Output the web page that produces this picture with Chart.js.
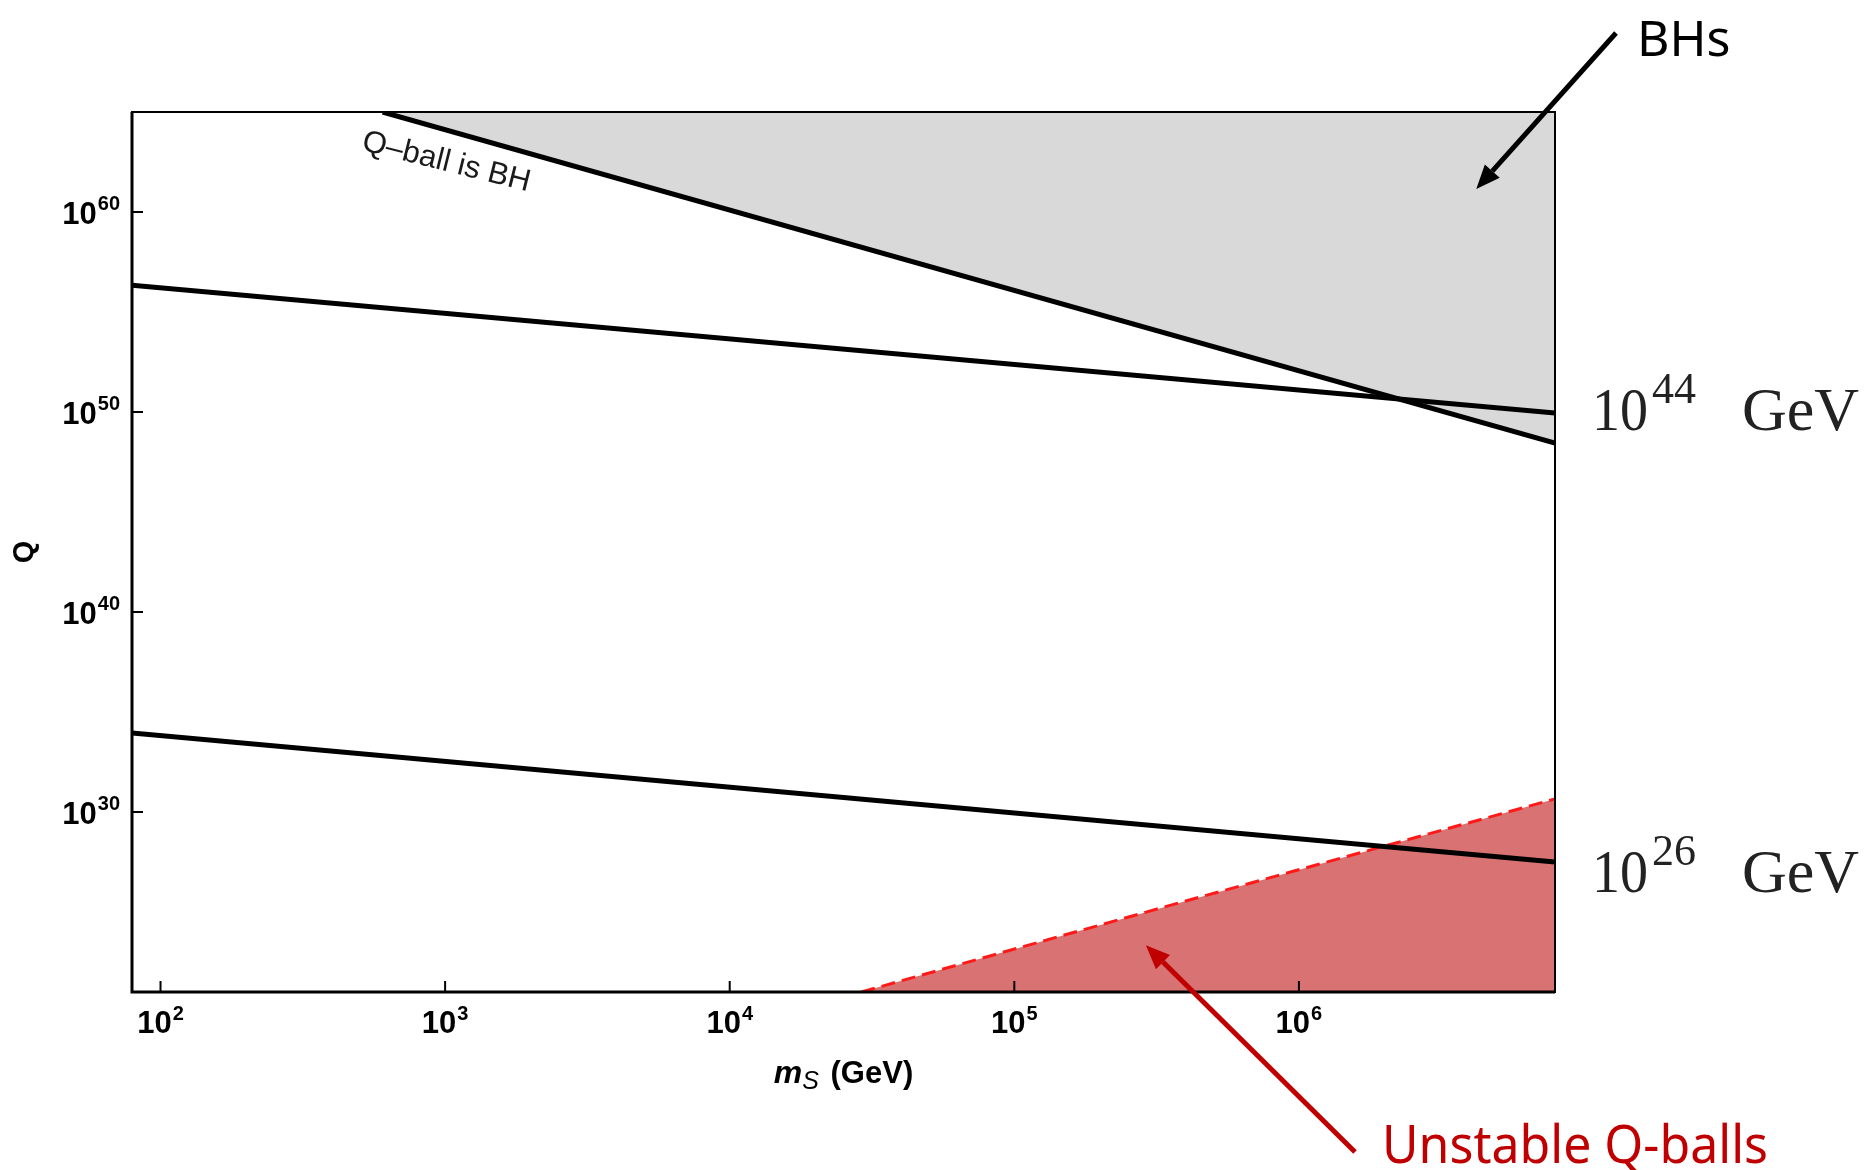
<!DOCTYPE html>
<html>
<head>
<meta charset="utf-8">
<title>Q-ball bounds</title>
<script src="https://cdn.jsdelivr.net/npm/chart.js@4.4.1/dist/chart.umd.min.js"></script>
<style>
  html, body { margin: 0; padding: 0; background: #fff; }
  #wrap { width: 1872px; height: 1170px; }
</style>
</head>
<body>
<div id="wrap"><canvas id="qballChart" width="1872" height="1170"></canvas></div>
<script>
// axis ranges: m_S in GeV, Q dimensionless
const xRange = [79.4, 7.94e6];
const yRange = [1e21, 1e65];
const xTickExps = [2, 3, 4, 5, 6];
const yTickExps = [30, 40, 50, 60];

// "Q-ball is BH" boundary
const bhMass = [603, 7.94e6];
const bhCharge = [1e65, 2.8e48];

// total energy 10^44 GeV
const e44Mass = [79.4, 7.94e6];
const e44Charge = [2.2e56, 8.9e49];

// total energy 10^26 GeV
const e26Mass = [79.4, 7.94e6];
const e26Charge = [8.9e33, 3.2e27];

// unstable Q-balls boundary
const unstableMass = [2.9e4, 3.9e5, 7.94e6];
const unstableCharge = [1e21, 3.2e25, 4.5e30];

const pts = (xs, ys) => xs.map((x, i) => ({ x: x, y: ys[i] }));

function drawArrow(ctx, x1, y1, x2, y2, color, width, headLen, headW) {
    const ang = Math.atan2(y2 - y1, x2 - x1);
    const bx = x2 - headLen * Math.cos(ang);
    const by = y2 - headLen * Math.sin(ang);
    ctx.strokeStyle = color;
    ctx.fillStyle = color;
    ctx.lineWidth = width;
    ctx.beginPath();
    ctx.moveTo(x1, y1);
    ctx.lineTo(bx, by);
    ctx.stroke();
    ctx.beginPath();
    ctx.moveTo(x2, y2);
    ctx.lineTo(bx + headW / 2 * Math.sin(ang), by - headW / 2 * Math.cos(ang));
    ctx.lineTo(bx - headW / 2 * Math.sin(ang), by + headW / 2 * Math.cos(ang));
    ctx.closePath();
    ctx.fill();
}

// draws "10" with a raised exponent, left edge at x
function drawPower(ctx, x, baseY, supY, exp, baseFont, supFont, gap) {
    ctx.textAlign = 'left';
    ctx.font = baseFont;
    ctx.fillText('10', x, baseY);
    const w = ctx.measureText('10').width;
    ctx.font = supFont;
    ctx.fillText(String(exp), x + w + gap, supY);
}

function powerWidth(ctx, exp, baseFont, supFont, gap) {
    ctx.font = baseFont;
    const w = ctx.measureText('10').width;
    ctx.font = supFont;
    return w + gap + ctx.measureText(String(exp)).width;
}

const annotations = {
    id: 'annotations',
    afterDraw(chart) {
        const ctx = chart.ctx;
        const { left, right, top, bottom } = chart.chartArea;
        const xs = chart.scales.x;
        const ys = chart.scales.y;
        ctx.save();

        // frame
        ctx.strokeStyle = '#000';
        ctx.lineWidth = 2;
        ctx.strokeRect(left, top, right - left, bottom - top);
        ctx.lineWidth = 3;
        ctx.beginPath();
        ctx.moveTo(left, top);
        ctx.lineTo(left, bottom);
        ctx.lineTo(right, bottom);
        ctx.stroke();

        // ticks + labels
        const baseFont = 'bold 31px "Liberation Sans", Arial, sans-serif';
        const supFont = 'bold 20px "Liberation Sans", Arial, sans-serif';
        ctx.fillStyle = '#000';
        ctx.lineWidth = 2;
        ctx.textBaseline = 'alphabetic';
        yTickExps.forEach(e => {
            const py = ys.getPixelForValue(Math.pow(10, e));
            ctx.beginPath();
            ctx.moveTo(left, py);
            ctx.lineTo(left + 11, py);
            ctx.stroke();
            const w = powerWidth(ctx, e, baseFont, supFont, 1);
            drawPower(ctx, left - 12 - w, py + 12, py - 2, e, baseFont, supFont, 1);
        });
        xTickExps.forEach(e => {
            const px = xs.getPixelForValue(Math.pow(10, e));
            ctx.beginPath();
            ctx.moveTo(px, bottom);
            ctx.lineTo(px, bottom - 11);
            ctx.stroke();
            const w = powerWidth(ctx, e, baseFont, supFont, 1);
            drawPower(ctx, px - w / 2, bottom + 41, bottom + 28, e, baseFont, supFont, 1);
        });

        // axis titles
        ctx.save();
        ctx.translate(25, (top + bottom) / 2);
        ctx.rotate(-Math.PI / 2);
        ctx.textAlign = 'center';
        ctx.textBaseline = 'middle';
        ctx.font = 'bold 29px "Liberation Sans", Arial, sans-serif';
        ctx.fillText('Q', 0, 0);
        ctx.restore();

        const mFont = 'italic bold 32px "Liberation Sans", Arial, sans-serif';
        const sFont = 'italic 25px "Liberation Sans", Arial, sans-serif';
        const gFont = 'bold 31px "Liberation Sans", Arial, sans-serif';
        ctx.font = mFont; const mW = ctx.measureText('m').width;
        ctx.font = sFont; const sW = ctx.measureText('S').width;
        ctx.font = gFont; const gW = ctx.measureText(' (GeV)').width;
        let tx = (left + right) / 2 - (mW + sW + gW + 3) / 2;
        ctx.textAlign = 'left';
        ctx.font = mFont; ctx.fillText('m', tx, bottom + 91); tx += mW;
        ctx.font = sFont; ctx.fillText('S', tx, bottom + 97); tx += sW + 3;
        ctx.font = gFont; ctx.fillText(' (GeV)', tx, bottom + 91);

        // label along the BH boundary
        ctx.save();
        ctx.translate(xs.getPixelForValue(505), ys.getPixelForValue(1.3e63));
        ctx.rotate(14 * Math.PI / 180);
        ctx.fillStyle = '#1a1a1a';
        ctx.font = '31px "Liberation Sans", Arial, sans-serif';
        ctx.textAlign = 'left';
        ctx.fillText('Q\u2013ball is BH', 0, 0);
        ctx.restore();

        // energy labels on the right
        const serifBase = '62px "Liberation Serif", "DejaVu Serif", serif';
        const serifSup = '44px "Liberation Serif", "DejaVu Serif", serif';
        ctx.fillStyle = '#222';
        [[44, 430], [26, 892]].forEach(([e, by]) => {
            ctx.textAlign = 'left';
            ctx.font = serifBase;
            ctx.fillText('10', right + 37, by, 56);
            ctx.font = serifSup;
            ctx.fillText(String(e), right + 97, by - 27, 50);
            ctx.font = serifBase;
            ctx.fillText('GeV', right + 187, by, 124);
        });

        // BHs callout
        ctx.fillStyle = '#000';
        ctx.font = '50px "Noto Sans", "Open Sans", sans-serif';
        ctx.textAlign = 'left';
        ctx.fillText('BHs', 1637, 56, 96);
        drawArrow(ctx, 1616, 33, xs.getPixelForValue(4.2e6), ys.getPixelForValue(1.4e61), '#000', 5, 24, 20);

        // Unstable Q-balls callout
        ctx.fillStyle = '#c00000';
        ctx.font = '52px "Noto Sans", "Open Sans", sans-serif';
        ctx.fillText('Unstable Q-balls', 1382, 1163, 386);
        drawArrow(ctx, 1355, 1152, xs.getPixelForValue(2.9e5), ys.getPixelForValue(2.2e23), '#c00000', 5, 24, 20);

        ctx.restore();
    }
};

const ctx = document.getElementById('qballChart').getContext('2d');
new Chart(ctx, {
    type: 'line',
    data: {
        datasets: [
            {
                label: 'Q-ball is BH',
                data: pts(bhMass, bhCharge),
                borderColor: '#000',
                borderWidth: 5,
                backgroundColor: '#d9d9d9',
                fill: 'end',
                pointRadius: 0,
                order: 4
            },
            {
                label: 'Unstable Q-balls',
                data: pts(unstableMass, unstableCharge),
                borderColor: '#ff1a1a',
                borderWidth: 3,
                borderDash: [14, 7],
                backgroundColor: '#d97272',
                fill: 'start',
                pointRadius: 0,
                order: 3
            },
            {
                label: '10^26 GeV',
                data: pts(e26Mass, e26Charge),
                borderColor: '#000',
                borderWidth: 5,
                fill: false,
                pointRadius: 0,
                order: 2
            },
            {
                label: '10^44 GeV',
                data: pts(e44Mass, e44Charge),
                borderColor: '#000',
                borderWidth: 5,
                fill: false,
                pointRadius: 0,
                order: 1
            }
        ]
    },
    options: {
        responsive: false,
        animation: false,
        devicePixelRatio: 1,
        layout: { padding: { top: 112, right: 317, left: 0, bottom: 0 } },
        plugins: {
            legend: { display: false },
            tooltip: { enabled: false }
        },
        scales: {
            x: {
                type: 'logarithmic',
                min: xRange[0],
                max: xRange[1],
                grid: { display: false, drawTicks: false },
                border: { display: false },
                ticks: { display: false },
                afterBuildTicks: s => { s.ticks = xTickExps.map(e => ({ value: Math.pow(10, e) })); },
                afterFit: s => { s.height = 178; }
            },
            y: {
                type: 'logarithmic',
                min: yRange[0],
                max: yRange[1],
                grid: { display: false, drawTicks: false },
                border: { display: false },
                ticks: { display: false },
                afterBuildTicks: s => { s.ticks = yTickExps.map(e => ({ value: Math.pow(10, e) })); },
                afterFit: s => { s.width = 132; }
            }
        }
    },
    plugins: [annotations]
});
</script>
</body>
</html>
